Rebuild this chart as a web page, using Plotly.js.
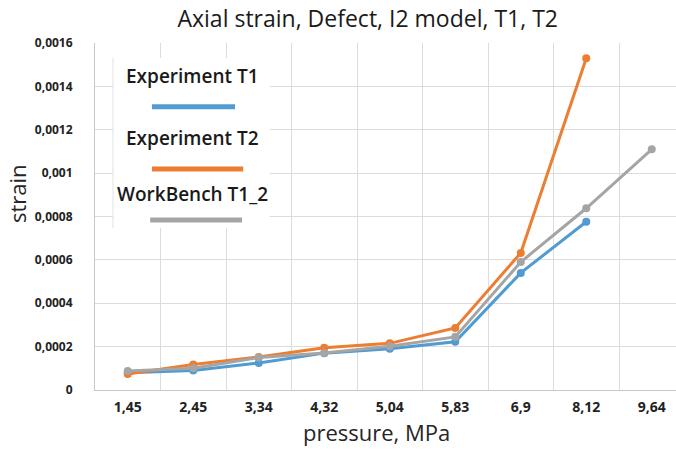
<!DOCTYPE html>
<html>
<head>
<meta charset="utf-8">
<script src="https://cdn.plot.ly/plotly-3.0.1.min.js"></script>
<style>html,body{margin:0;padding:0;background:#fff;}#chart{width:676px;height:450px;}</style>
</head>
<body>
<div id="chart"></div>
<script>
// Data
var pressureLabels = ["1,45", "2,45", "3,34", "4,32", "5,04", "5,83", "6,9", "8,12", "9,64"];
var seriesNames = ["Experiment T1", "Experiment T2", "WorkBench T1_2"];
var expT1 = [0.00008, 0.00009, 0.000125, 0.00017, 0.00019, 0.000222, 0.00054, 0.000776];
var expT2 = [0.000074, 0.000118, 0.000152, 0.000195, 0.000215, 0.000286, 0.000632, 0.00153];
var workbench = [0.000088, 0.0001, 0.00015, 0.000171, 0.000202, 0.000245, 0.00059, 0.000838, 0.00111];
var yTickVals = [0, 0.0002, 0.0004, 0.0006, 0.0008, 0.001, 0.0012, 0.0014, 0.0016];
var yTickText = ["0", "0,0002", "0,0004", "0,0006", "0,0008", "0,001", "0,0012", "0,0014", "0,0016"];

var colors = ["#4f9bd2", "#ec7d31", "#a5a5a5"];
var seriesData = [expT1, expT2, workbench];

var traces = seriesData.map(function (vals, i) {
  return {
    type: "scatter",
    mode: "lines+markers",
    name: seriesNames[i],
    x: pressureLabels.slice(0, vals.length),
    y: vals,
    line: {color: colors[i], width: 3},
    marker: {color: colors[i], size: 8, symbol: "circle"},
    showlegend: false
  };
});

var font = "Open Sans, DejaVu Sans, sans-serif";

// custom legend (text above line, like the source)
var legendTextY = [0.905, 0.726, 0.565];
var legendLineY = [0.816, 0.637, 0.490];
var legendLineX = [[0.098, 0.241], [0.098, 0.255], [0.095, 0.253]];

var shapes = [
  {type: "rect", xref: "paper", yref: "paper", x0: 0.031, x1: 0.301, y0: 0.467, y1: 0.957,
   fillcolor: "#ffffff", line: {width: 0}, layer: "above"},
  {type: "line", xref: "paper", yref: "paper", x0: 0.031, x1: 0.031, y0: 0.467, y1: 0.957,
   line: {color: "#e3e3e3", width: 1}, layer: "above"}
];
var annotations = [];
seriesNames.forEach(function (nm, i) {
  shapes.push({type: "line", xref: "paper", yref: "paper",
    x0: legendLineX[i][0], x1: legendLineX[i][1], y0: legendLineY[i], y1: legendLineY[i],
    line: {color: colors[i], width: 5}, layer: "above"});
  annotations.push({xref: "paper", yref: "paper", x: 0.167, y: legendTextY[i],
    text: nm, showarrow: false, xanchor: "center", yanchor: "middle",
    font: {family: font, size: 19, color: "#1a1a1a", weight: 600}});
});
annotations.push({xref: "paper", yref: "paper", x: 0.484, y: -0.121, text: "pressure, MPa",
  showarrow: false, xanchor: "center", yanchor: "middle", borderpad: 0,
  font: {family: font, size: 22, color: "#262626"}});
annotations.push({xref: "paper", yref: "paper", x: -0.134, y: 0.565, text: "strain",
  showarrow: false, textangle: -90, xanchor: "center", yanchor: "middle", borderpad: 0,
  font: {family: font, size: 22, color: "#262626"}});

var layout = {
  width: 676, height: 450,
  margin: {l: 95, r: 0, t: 43, b: 60},
  paper_bgcolor: "#ffffff", plot_bgcolor: "#ffffff",
  title: {text: "Axial strain, Defect, I2 model, T1, T2", x: 0.544, xref: "container",
    y: 0.958, yref: "container", xanchor: "center", yanchor: "middle",
    font: {family: font, size: 23, color: "#1a1a1a"}},
  xaxis: {
    type: "category", range: [-0.5, 8.37], tickson: "boundaries",
    showgrid: true, gridcolor: "#dcdcdc", gridwidth: 1,
    showline: true, linecolor: "#c8c8c8", linewidth: 1,
    ticks: "", ticklabelstandoff: 4,
    tickfont: {family: font, size: 14, color: "#222", weight: 700},
    zeroline: false, fixedrange: true
  },
  yaxis: {
    range: [0, 0.0016], tickvals: yTickVals, ticktext: yTickText,
    showgrid: true, gridcolor: "#dcdcdc", gridwidth: 1,
    showline: true, linecolor: "#c8c8c8", linewidth: 1,
    ticks: "", ticklabelstandoff: 19,
    tickfont: {family: font, size: 12, color: "#222", weight: 700},
    zeroline: false, fixedrange: true
  },
  shapes: shapes,
  annotations: annotations
};

Plotly.newPlot("chart", traces, layout, {displayModeBar: false, staticPlot: true});
</script>
</body>
</html>
